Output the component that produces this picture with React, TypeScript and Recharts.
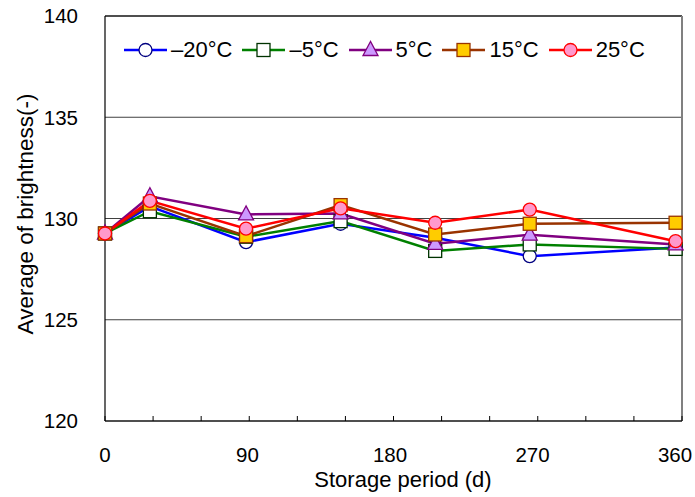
import { LineChart, Line, XAxis, YAxis, CartesianGrid, ReferenceLine, Legend, Label } from "recharts";

const FONT = '"Liberation Sans", Arial, sans-serif';

// storage day of each measurement
const days = [0, 28, 88, 147, 206, 265, 356];

// average brightness per storage temperature
const minus20 = [129.26, 130.6, 128.83, 129.74, 129.05, 128.14, 128.57];
const minus5 = [129.26, 130.36, 129.1, 129.87, 128.4, 128.72, 128.5];
const plus5 = [129.26, 131.1, 130.2, 130.25, 128.75, 129.2, 128.72];
const plus15 = [129.26, 130.74, 129.13, 130.66, 129.21, 129.74, 129.79];
const plus25 = [129.26, 130.87, 129.5, 130.5, 129.79, 130.44, 128.88];

const seriesNames = ["–20°C", "–5°C", "5°C", "15°C", "25°C"];
const xTicks = [0, 30, 60, 90, 120, 150, 180, 210, 240, 270, 300, 330, 360];
const yTicks = [120, 125, 130, 135, 140];

const data = days.map((day, i) => ({
  day,
  m20: minus20[i],
  m5: minus5[i],
  p5: plus5[i],
  p15: plus15[i],
  p25: plus25[i],
}));

type Shape = "circle" | "square" | "triangle";

const series: { key: string; name: string; line: string; fill: string; edge: string; shape: Shape }[] = [
  { key: "m20", name: seriesNames[0], line: "#0000ff", fill: "#ffffff", edge: "#000080", shape: "circle" },
  { key: "m5", name: seriesNames[1], line: "#008000", fill: "#ffffff", edge: "#003300", shape: "square" },
  { key: "p5", name: seriesNames[2], line: "#800080", fill: "#cc99ff", edge: "#800080", shape: "triangle" },
  { key: "p15", name: seriesNames[3], line: "#993300", fill: "#ffcc00", edge: "#993300", shape: "square" },
  { key: "p25", name: seriesNames[4], line: "#ff0000", fill: "#ff99cc", edge: "#ff0000", shape: "circle" },
];

function Marker({ cx, cy, shape, fill, edge }: any) {
  if (cx == null || cy == null) return null;
  if (shape === "circle") {
    return <circle cx={cx} cy={cy} r={6.5} fill={fill} stroke={edge} strokeWidth={1.3} />;
  }
  if (shape === "square") {
    return <rect x={cx - 6.5} y={cy - 6.5} width={13} height={13} fill={fill} stroke={edge} strokeWidth={1.3} />;
  }
  return (
    <polygon
      points={`${cx},${cy - 8.5} ${cx - 7.5},${cy + 5.5} ${cx + 7.5},${cy + 5.5}`}
      fill={fill}
      stroke={edge}
      strokeWidth={1.3}
    />
  );
}

function XTick({ x, y, payload }: any) {
  const axisY = y - 34;
  // the original labels drift a little left along the axis
  const shift = -(payload.value / 360) * 7;
  return (
    <g>
      <line x1={x} x2={x} y1={axisY} y2={axisY - 5} stroke="#000" />
      {payload.value % 90 === 0 && (
        <text x={x + shift} y={y} dy="0.355em" textAnchor="middle" fontSize={20.5} fontFamily={FONT} fill="#000">
          {payload.value}
        </text>
      )}
    </g>
  );
}

function LegendContent() {
  return (
    <div style={{ display: "flex", alignItems: "center", fontFamily: FONT, fontSize: 22, color: "#000", whiteSpace: "nowrap" }}>
      {series.map((s) => (
        <span key={s.key} style={{ display: "inline-flex", alignItems: "center", marginRight: 10 }}>
          <svg width={43} height={20}>
            <line x1={0} x2={43} y1={10} y2={10} stroke={s.line} strokeWidth={2.5} />
            <Marker cx={21.5} cy={10} shape={s.shape} fill={s.fill} edge={s.edge} />
          </svg>
          <span style={{ marginLeft: 4 }}>{s.name}</span>
        </span>
      ))}
    </div>
  );
}

export default function App() {
  return (
    <div style={{ position: "absolute", left: 0, top: 0, width: 695, height: 497, background: "#fff" }}>
      <LineChart width={695} height={497} data={data} margin={{ top: 16, right: 13, left: 0, bottom: 0 }}>
        <CartesianGrid vertical={false} stroke="#404040" strokeWidth={1.2} />
        <XAxis
          type="number"
          dataKey="day"
          domain={[0, 360]}
          ticks={xTicks}
          interval={0}
          tickSize={0}
          tickMargin={34}
          tick={<XTick />}
          axisLine={{ stroke: "#000", strokeWidth: 1.2 }}
          height={76}
        >
          <Label
            content={() => (
              <text x={403} y={487} textAnchor="middle" fontSize={22} fontFamily={FONT} fill="#000">
                Storage period (d)
              </text>
            )}
          />
        </XAxis>
        <YAxis
          type="number"
          domain={[120, 140]}
          ticks={yTicks}
          interval={0}
          tickLine={false}
          tickMargin={21}
          width={105}
          axisLine={{ stroke: "#000", strokeWidth: 1.2 }}
          tick={{ fontSize: 20.5, fontFamily: FONT, fill: "#000" }}
        >
          <Label
            content={() => (
              <text
                x={33}
                y={214}
                transform="rotate(-90, 33, 214)"
                textAnchor="middle"
                fontSize={22.5}
                fontFamily={FONT}
                fill="#000"
              >
                Average of brightness(-)
              </text>
            )}
          />
        </YAxis>
        <ReferenceLine y={140} stroke="#000" strokeWidth={1.2} />
        <ReferenceLine x={360} stroke="#808080" strokeWidth={2} />
        <Legend
          layout="horizontal"
          verticalAlign="middle"
          align="center"
          content={<LegendContent />}
          wrapperStyle={{ top: 37, left: 124, width: "auto" }}
        />
        {series.map((s) => (
          <Line
            key={s.key}
            type="linear"
            dataKey={s.key}
            name={s.name}
            stroke={s.line}
            strokeWidth={2.5}
            isAnimationActive={false}
            dot={(p: any) => (
              <Marker key={`${s.key}-${p.index}`} cx={p.cx} cy={p.cy} shape={s.shape} fill={s.fill} edge={s.edge} />
            )}
          />
        ))}
      </LineChart>
    </div>
  );
}
